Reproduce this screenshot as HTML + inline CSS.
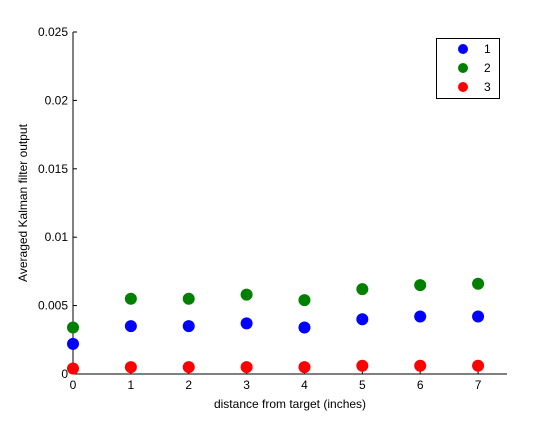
<!DOCTYPE html>
<html><head><meta charset="utf-8"><style>
body{margin:0;background:#fff;}
svg text{font-family:"Liberation Sans",Arial,sans-serif;font-size:12px;fill:#000;}
</style></head><body>
<svg id="chart" width="560" height="420">
<rect width="560" height="420" fill="#fff"/>
<g id="axes"></g>
<g id="marks"></g>
<g id="legend"></g>
</svg>
<script>
const categories=[0,1,2,3,4,5,6,7];
const series1=[0.0022,0.0035,0.0035,0.0037,0.0034,0.0040,0.0042,0.0042];
const series2=[0.0034,0.0055,0.0055,0.0058,0.0054,0.0062,0.0065,0.0066];
const series3=[0.0004,0.0005,0.0005,0.0005,0.0005,0.0006,0.0006,0.0006];
const seriesNames=["1","2","3"];
const seriesColors=["#0000ff","#008000","#ff0000"];
const yTicks=[0,0.005,0.01,0.015,0.02,0.025];
const yTickLabels=["0","0.005","0.01","0.015","0.02","0.025"];
const xTicks=[0,1,2,3,4,5,6,7];

const L=73,R=507,T=32,B=374,xMax=7.5,yMax=0.025;
const xs=v=>L+(v/xMax)*(R-L);
const ys=v=>B-(v/yMax)*(B-T);
const NS="http://www.w3.org/2000/svg";
function mk(tag,attrs,parent){const e=document.createElementNS(NS,tag);for(const k in attrs)e.setAttribute(k,attrs[k]);parent.appendChild(e);return e;}
const ax=document.getElementById('axes');
let fr=mk('path',{d:`M${L},${T}V${B}H${R}`,fill:'none',stroke:'#000','stroke-width':1},ax);


xTicks.forEach(t=>{
 const x=xs(t);
 const tk=mk('line',{x1:x,x2:x,y1:B,y2:B-4,stroke:'#000'},ax);
 
 
 const tx=mk('text',{x:x,y:B+15,'text-anchor':'middle'},ax);tx.textContent=t;
 
 
});
yTicks.forEach((t,i)=>{
 const y=ys(t);
 const tk=mk('line',{x1:L,x2:L+4,y1:y,y2:y,stroke:'#000'},ax);
 
 
 const tx=mk('text',{x:L-5,y:y+4,'text-anchor':'end'},ax);tx.textContent=yTickLabels[i];
 
 
});
const xt=mk('text',{x:(L+R)/2,y:408,'text-anchor':'middle'},ax);xt.textContent='distance from target (inches)';


const yt=mk('text',{x:0,y:0,'text-anchor':'middle',transform:`translate(27,${(T+B)/2}) rotate(-90)`},ax);yt.textContent='Averaged Kalman filter output';


const mg=document.getElementById('marks');
[series1,series2,series3].forEach((s,si)=>{
 s.forEach((v,i)=>{
  const c=mk('circle',{cx:xs(categories[i]),cy:ys(v),r:6,fill:seriesColors[si]},mg);
  
  
 });
});
const lg=document.getElementById('legend');
const lb=mk('rect',{x:436.5,y:38.5,width:63,height:60,fill:'#fff',stroke:'#000'},lg);


seriesNames.forEach((n,i)=>{
 const y=49+i*19;
 const c=mk('circle',{cx:463,cy:y,r:5,fill:seriesColors[i]},lg);
 
 
 const t=mk('text',{x:484,y:y+4},lg);t.textContent=n;
 
 
});
</script>
</body></html>
